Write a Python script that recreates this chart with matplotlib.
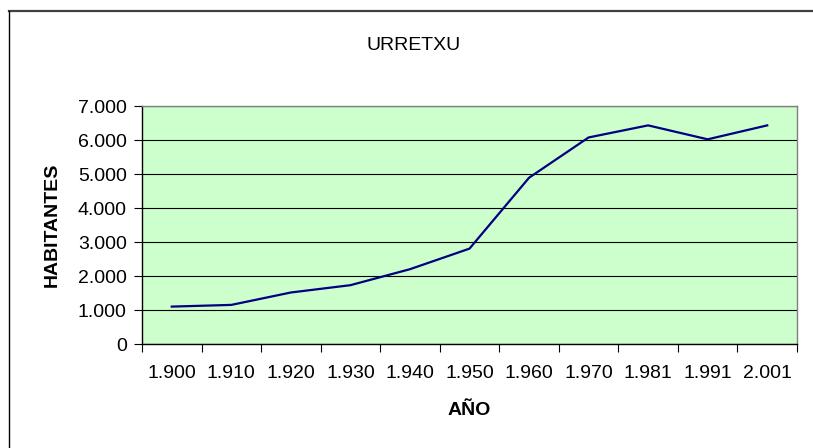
import matplotlib
matplotlib.use('Agg')
import matplotlib.pyplot as plt
from matplotlib.lines import Line2D
from matplotlib.ticker import FuncFormatter

years = ['1.900', '1.910', '1.920', '1.930', '1.940', '1.950',
         '1.960', '1.970', '1.981', '1.991', '2.001']
habitantes = [1100, 1150, 1515, 1730, 2200, 2805, 4890, 6075, 6430, 6020, 6430]
y_ticks = [0, 1000, 2000, 3000, 4000, 5000, 6000, 7000]

plt.rcParams['font.family'] = ['Liberation Sans', 'DejaVu Sans']

W, H = 813, 448
fig = plt.figure(figsize=(W / 100, H / 100), dpi=100)
fig.patch.set_facecolor('white')

# chart frame (top and left visible, rest runs off the image)
fig.add_artist(Line2D([9 / W, 1.0], [1 - 11 / H, 1 - 11 / H],
                      transform=fig.transFigure, color='#404040', lw=1.6))
fig.add_artist(Line2D([9 / W, 9 / W], [0.0, 1 - 11 / H],
                      transform=fig.transFigure, color='black', lw=1.0))

left, right, top, bottom = 142, 797, 106, 344
ax = fig.add_axes([left / W, 1 - bottom / H, (right - left) / W, (bottom - top) / H])
ax.set_facecolor('#CCFFCC')

x = list(range(len(years)))
ax.plot(x, habitantes, color='#000080', lw=1.6, zorder=3)

ax.set_xlim(-0.5, len(years) - 0.5)
ax.set_ylim(0, 7000)
ax.set_yticks(y_ticks)
ax.yaxis.set_major_formatter(FuncFormatter(lambda v, p: f'{int(v):,}'.replace(',', '.')))
ax.grid(axis='y', color='black', lw=0.8, zorder=1)
ax.set_axisbelow(True)

# category boundaries get the ticks, labels sit in the middle
ax.set_xticks([i - 0.5 for i in range(len(years) + 1)])
ax.set_xticklabels([])
ax.set_xticks(x, minor=True)
ax.set_xticklabels(years, minor=True)
ax.tick_params(axis='x', which='major', length=6, width=0.8, color='black')
ax.tick_params(axis='x', which='minor', length=0, pad=15, labelsize=14)
ax.tick_params(axis='y', length=6, width=0.8, pad=5, labelsize=14)

ax.spines['left'].set_color('black')
ax.spines['bottom'].set_color('black')
ax.spines['top'].set_color('#808080')
ax.spines['right'].set_color('#808080')
for s in ax.spines.values():
    s.set_linewidth(1.0)

fig.text(414 / W, 1 - 46 / H, 'URRETXU', ha='center', va='center', fontsize=14)
fig.text(469 / W, 1 - 410 / H, 'AÑO', ha='center', va='center', fontsize=14, fontweight='bold')
fig.text(52 / W, 1 - 225 / H, 'HABITANTES', ha='center', va='center', fontsize=14,
         fontweight='bold', rotation=90)

fig.savefig('out.png', dpi=100)
